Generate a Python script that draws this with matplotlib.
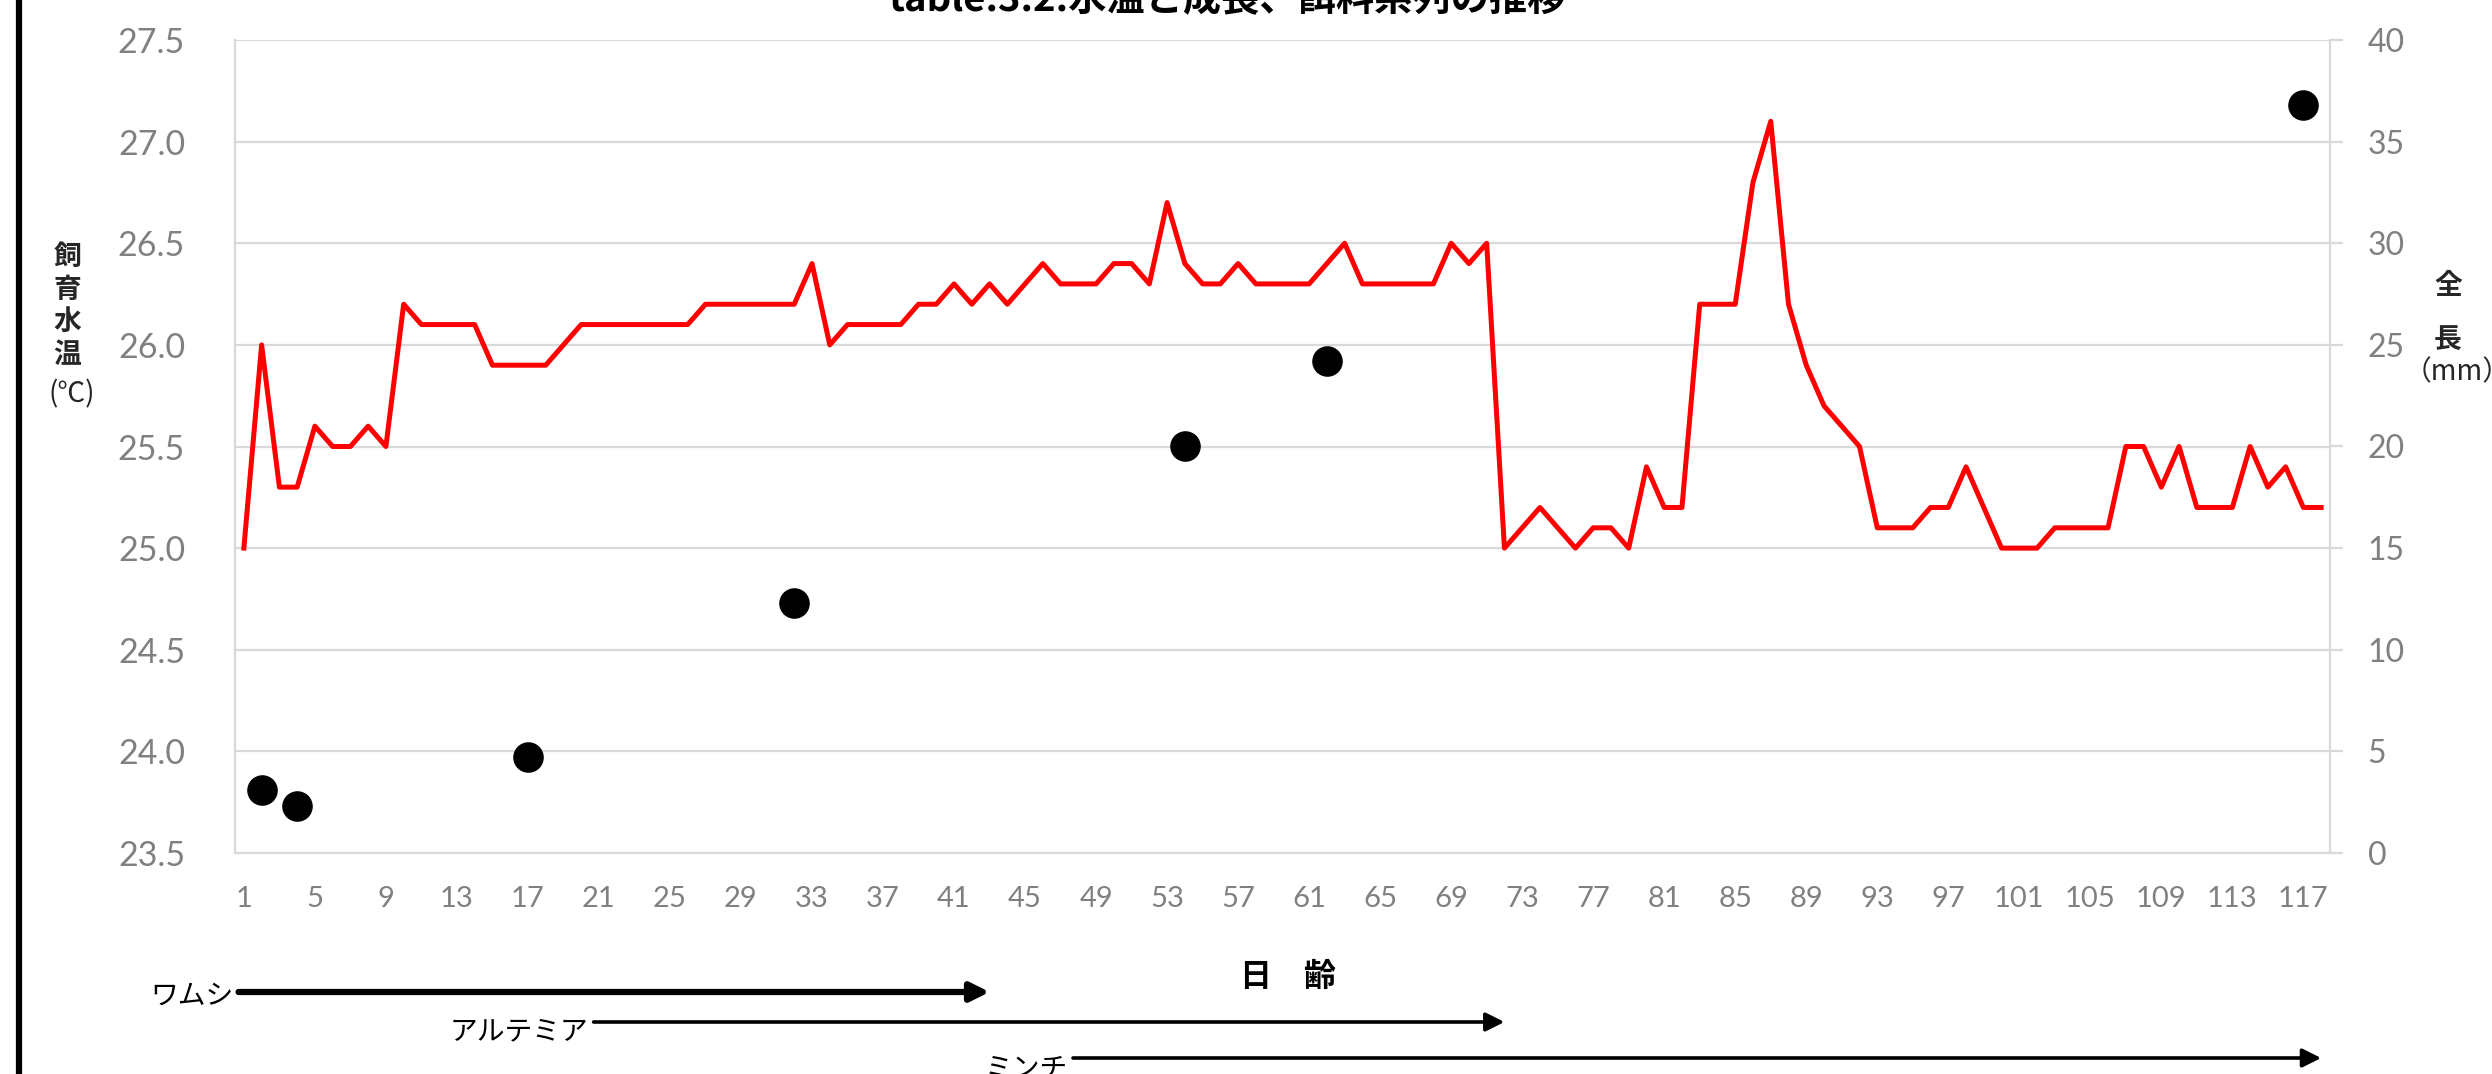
import matplotlib
matplotlib.use('Agg')
import matplotlib.pyplot as plt
import matplotlib.transforms as mtransforms
from matplotlib.lines import Line2D
import numpy as np

plt.rcParams['font.family'] = ['Lato', 'Noto Sans CJK JP', 'DejaVu Sans']
JP = ['Noto Sans CJK JP', 'DejaVu Sans']

# daily water temperature (C), day 1..118
days = list(range(1, 119))
water_temp = [
    25.0, 26.0, 25.3, 25.3, 25.6, 25.5, 25.5, 25.6, 25.5, 26.2,
    26.1, 26.1, 26.1, 26.1, 25.9, 25.9, 25.9, 25.9, 26.0, 26.1,
    26.1, 26.1, 26.1, 26.1, 26.1, 26.1, 26.2, 26.2, 26.2, 26.2,
    26.2, 26.2, 26.4, 26.0, 26.1, 26.1, 26.1, 26.1, 26.2, 26.2,
    26.3, 26.2, 26.3, 26.2, 26.3, 26.4, 26.3, 26.3, 26.3, 26.4,
    26.4, 26.3, 26.7, 26.4, 26.3, 26.3, 26.4, 26.3, 26.3, 26.3,
    26.3, 26.4, 26.5, 26.3, 26.3, 26.3, 26.3, 26.3, 26.5, 26.4,
    26.5, 25.0, 25.1, 25.2, 25.1, 25.0, 25.1, 25.1, 25.0, 25.4,
    25.2, 25.2, 26.2, 26.2, 26.2, 26.8, 27.1, 26.2, 25.9, 25.7,
    25.6, 25.5, 25.1, 25.1, 25.1, 25.2, 25.2, 25.4, 25.2, 25.0,
    25.0, 25.0, 25.1, 25.1, 25.1, 25.1, 25.5, 25.5, 25.3, 25.5,
    25.2, 25.2, 25.2, 25.5, 25.3, 25.4, 25.2, 25.2,
]

# total length measurements (mm)
len_days = [2, 4, 17, 32, 54, 62, 117]
body_len = [3.1, 2.3, 4.7, 12.3, 20.0, 24.2, 36.8]

# feeding periods
feeds = ['ワムシ', 'アルテミア', 'ミンチ']
feed_start = [1, 21, 48]
feed_end = [43, 72, 118]

W, H = 2492, 1074
fig = plt.figure(figsize=(W / 100, H / 100), dpi=100)
ax = fig.add_axes([235 / W, 1 - 853 / H, (2330 - 235) / W, (853 - 40) / H])

grid_c = '#d9d9d9'
lab_c = '#808080'

ax.plot(days, water_temp, color='#ff0000', lw=3.6, zorder=3)
ax.set_xlim(0.5, 118.5)
ax.set_ylim(23.5, 27.5)
yt = np.arange(23.5, 27.51, 0.5)
ax.set_yticks(yt)
ax.set_yticklabels(['{:.1f}'.format(v) for v in yt])
ax.set_xticks(range(1, 119, 4))
ax.grid(axis='y', color=grid_c, lw=1.6)
ax.set_axisbelow(True)
ax.tick_params(axis='x', length=0, pad=24, labelsize=21, labelcolor=lab_c)
ax.tick_params(axis='y', length=0, pad=36, labelsize=24.5, labelcolor=lab_c)
for s in ['top', 'right']:
    ax.spines[s].set_visible(False)
ax.spines['left'].set_color(grid_c)
ax.spines['bottom'].set_color(grid_c)
ax.spines['left'].set_linewidth(1.6)
ax.spines['bottom'].set_linewidth(1.6)

ax2 = ax.twinx()
ax2.plot(len_days, body_len, 'o', color='black', ms=21, ls='none', zorder=4)
ax2.set_ylim(0, 40)
ax2.set_yticks(range(0, 41, 5))
ax2.tick_params(axis='y', length=9, width=1.6, color=grid_c, pad=18,
                labelsize=23, labelcolor=lab_c)
for s in ['top', 'left', 'bottom']:
    ax2.spines[s].set_visible(False)
ax2.spines['right'].set_color(grid_c)
ax2.spines['right'].set_linewidth(1.6)

# title (cut by the top edge as in the source)
fig.text(1227 / W, 1 - 19 / H, 'table.3.2.水温と成長、餌料系列の推移',
         ha='center', va='bottom', fontsize=27.5, fontweight='bold', family=JP)

# left axis label, stacked
for ch, y in zip(['飼', '育', '水', '温'], [257, 290, 322, 355]):
    fig.text(67 / W, 1 - y / H, ch, ha='center', va='center', fontsize=20,
             fontweight='bold', family=JP, color='#262626')
fig.text(72 / W, 1 - 394 / H, '(℃)', ha='center', va='center', fontsize=20,
         family=JP, color='#262626')

# right axis label
fig.text(2448 / W, 1 - 286 / H, '全', ha='center', va='center', fontsize=20,
         fontweight='bold', family=JP, color='#262626')
fig.text(2448 / W, 1 - 340 / H, '長', ha='center', va='center', fontsize=20,
         fontweight='bold', family=JP, color='#262626')
fig.text(2404 / W, 1 - 372 / H, '（mm）', ha='left', va='center', fontsize=20,
         family=JP, color='#262626')

# x label
fig.text(1288 / W, 1 - 977 / H, '日　齢', ha='center', va='center', fontsize=23,
         fontweight='bold', family=JP)

# feeding arrows: x in days, y in figure pixels
trans = mtransforms.blended_transform_factory(ax.transData, fig.transFigure)
arrow_y = [992, 1022, 1058]
arrow_lw = [4.5, 2.6, 2.6]
label_y = [996, 1031, 1068]
for name, x0, x1, ay, lw, ly in zip(feeds, feed_start, feed_end, arrow_y, arrow_lw, label_y):
    ax.annotate('', xy=(x1, 1 - ay / H), xytext=(x0 - 0.3, 1 - ay / H),
                xycoords=trans, textcoords=trans, annotation_clip=False,
                arrowprops=dict(arrowstyle='-|>', color='black', lw=lw,
                                mutation_scale=28, shrinkA=0, shrinkB=0))
    ax.text(x0 - 0.6, 1 - ly / H, name, transform=trans, ha='right', va='center',
            fontsize=20, family=JP, clip_on=False)

# frame edge on the left side
fig.add_artist(Line2D([19 / W, 19 / W], [0, 1], transform=fig.transFigure,
                      color='black', lw=4.5))

fig.savefig('out.png', dpi=100)
